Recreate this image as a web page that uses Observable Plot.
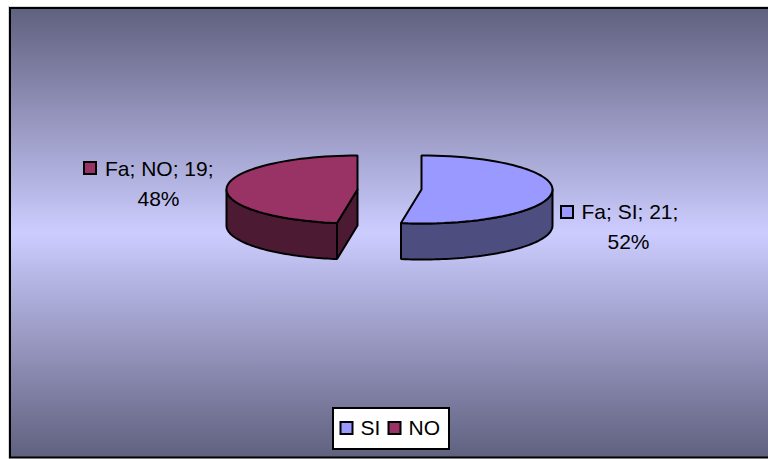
<!DOCTYPE html>
<html>
<head>
<meta charset="utf-8">
<style>html,body{margin:0;padding:0;background:#fff;overflow:hidden}svg{display:block}</style>
<script src="https://cdn.jsdelivr.net/npm/d3@7"></script>
<script src="https://cdn.jsdelivr.net/npm/@observablehq/plot@0.6"></script>
</head>
<body>
<script>
// Survey answers for group "Fa"
const categories = ["SI", "NO"];
const counts = [21, 19];
const percents = [52, 48];
const groupName = "Fa";
const topColors = ["#9999ff", "#993366"];
const sideColors = ["#4d4d80", "#4d1a33"];

// Pie layout on the page, in pixels
const W = 768, H = 459;
const RX = 131, RY = 34, DEPTH = 36, CY = 189;
const CX = [421, 357];
const total = d3.sum(counts);
const angles = d3.cumsum(counts).map(c => c / total * 360);
const startAngles = [0, angles[0]];

// Point on a slice rim; degrees run clockwise from twelve o'clock
const rim = (i, deg, dz = 0) => {
  const t = deg * Math.PI / 180;
  return {x: CX[i] + RX * Math.sin(t), y: CY + dz - RY * Math.cos(t)};
};
const arc = (i, a, b, dz = 0) => d3.range(0, 61).map(k => rim(i, a + (b - a) * k / 60, dz));
const closed = pts => [...pts, pts[0]];

const apex = i => ({x: CX[i], y: CY});
const apexLow = i => ({x: CX[i], y: CY + DEPTH});

// Outlines for the two slices
const topFace = i => closed([apex(i), ...arc(i, startAngles[i], angles[i])]);
const outerWall = (i, a, b) => closed([...arc(i, a, b), ...arc(i, b, a, DEPTH)]);
const wallSI = outerWall(0, 90, angles[0]);
const wallNO = outerWall(1, angles[0], 270);
const cutNO = closed([apex(1), rim(1, angles[0]), rim(1, angles[0], DEPTH), apexLow(1)]);

const shape = (pts, fill) => Plot.line(pts, {
  x: "x", y: "y", fill, stroke: "#000", strokeWidth: 2, strokeLinejoin: "miter"
});

const gradient = () => {
  const defs = d3.create("svg:defs");
  const g = defs.append("linearGradient").attr("id", "wall").attr("x1", 0).attr("x2", 0).attr("y1", 0).attr("y2", 1);
  g.append("stop").attr("offset", "0%").attr("stop-color", "#60607f");
  g.append("stop").attr("offset", "50%").attr("stop-color", "#ccccff");
  g.append("stop").attr("offset", "100%").attr("stop-color", "#60607f");
  return defs.node();
};

// Data labels and legend share one table of entries
const labelRows = [
  {i: 0, sx: 567, sy: 212, tx: 581, ty: 218, px: 628, py: 248.5},
  {i: 1, sx: 90, sy: 168, tx: 104.5, ty: 175, px: 158, py: 205}
].map(d => ({
  ...d,
  line1: `${groupName}; ${categories[d.i]}; ${counts[d.i]};`,
  line2: `${percents[d.i]}%`
}));
const legendRows = [
  {i: 0, sx: 346.5, tx: 360},
  {i: 1, sx: 394.5, tx: 408}
];

const swatch = (rows, xKey, y) => Plot.rect(rows, {
  x1: d => d[xKey] - 6, x2: d => d[xKey] + 6,
  y1: d => (y ?? d.sy) - 6, y2: d => (y ?? d.sy) + 6,
  fill: d => topColors[d.i], stroke: "#000", strokeWidth: 2
});
const textStyle = {fontFamily: "Liberation Sans, Arial, sans-serif", fontSize: 21, fill: "#000", lineAnchor: "bottom"};

const chart = Plot.plot({
  width: W, height: H,
  margin: 0,
  x: {domain: [0, W], range: [0, W], axis: null},
  y: {domain: [0, H], range: [0, H], axis: null},
  marks: [
    gradient,
    // faint edge outside the chart area
    Plot.rect([{}], {x1: 8.5, x2: W + 4, y1: 6.5, y2: H + 4, fill: "none", stroke: "#d8d8d8", strokeWidth: 1}),
    // chart area
    Plot.rect([{}], {x1: 10, x2: W + 4, y1: 8, y2: 457.5, fill: "url(#wall)", stroke: "#000", strokeWidth: 2}),
    // SI slice
    shape(wallSI, sideColors[0]),
    shape(topFace(0), topColors[0]),
    // NO slice
    shape(wallNO, sideColors[1]),
    shape(cutNO, sideColors[1]),
    shape(topFace(1), topColors[1]),
    // data labels
    swatch(labelRows, "sx"),
    Plot.text(labelRows, {x: "tx", y: "ty", text: "line1", textAnchor: "start", ...textStyle}),
    Plot.text(labelRows, {x: "px", y: "py", text: "line2", textAnchor: "middle", ...textStyle}),
    // legend
    Plot.rect([{}], {x1: 333, x2: 449, y1: 408, y2: 449, fill: "#fff", stroke: "#000", strokeWidth: 2}),
    swatch(legendRows, "sx", 428),
    Plot.text(legendRows, {x: "tx", y: () => 434, text: d => categories[d.i], textAnchor: "start", ...textStyle})
  ]
});
document.body.appendChild(chart);
</script>
</body>
</html>
